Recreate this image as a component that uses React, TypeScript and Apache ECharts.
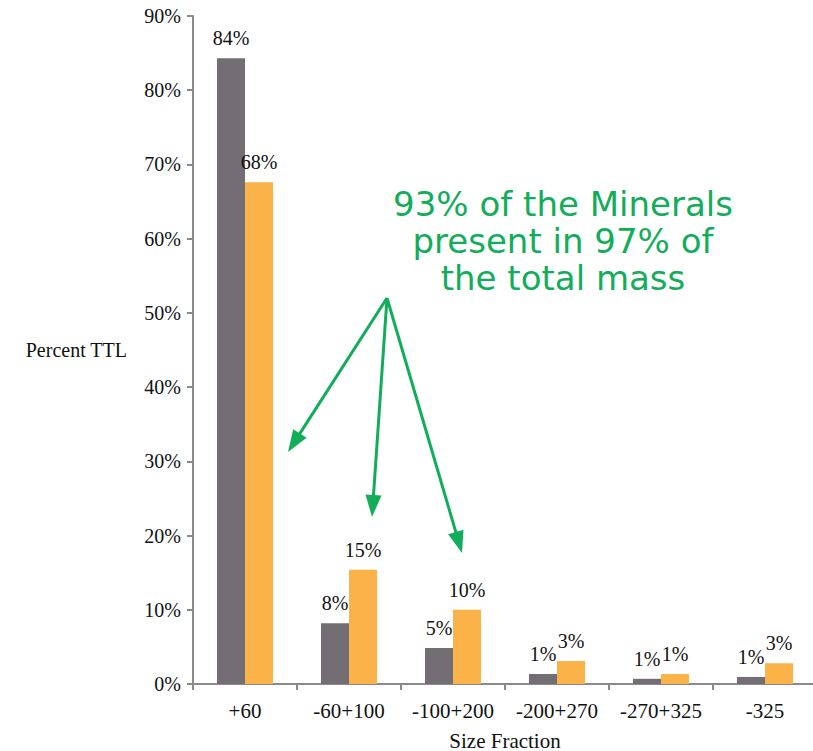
import React, { useEffect, useRef } from "react";
import * as echarts from "echarts";

const categories = ["+60", "-60+100", "-100+200", "-200+270", "-270+325", "-325"];
const seriesA = [84.3, 8.2, 4.85, 1.35, 0.7, 0.95];
const seriesB = [67.6, 15.4, 10.0, 3.1, 1.35, 2.8];
const yTicks = [0, 10, 20, 30, 40, 50, 60, 70, 80, 90];
const annotationLines = ["93% of the Minerals", "present in 97% of", "the total mass"];

const GREEN = "#12ad5b";
const SERIF = "'Liberation Serif', 'DejaVu Serif', serif";

function arrow(x1: number, y1: number, x2: number, y2: number) {
  const dx = x2 - x1;
  const dy = y2 - y1;
  const len = Math.sqrt(dx * dx + dy * dy);
  const ux = dx / len;
  const uy = dy / len;
  const headLen = 22;
  const headW = 8;
  const bx = x2 - ux * headLen;
  const by = y2 - uy * headLen;
  const px = -uy;
  const py = ux;
  return [
    {
      type: "line",
      shape: { x1, y1, x2: bx + ux * 2, y2: by + uy * 2 },
      style: { stroke: GREEN, lineWidth: 3 },
    },
    {
      type: "polygon",
      shape: {
        points: [
          [x2, y2],
          [bx + px * headW, by + py * headW],
          [bx - px * headW, by - py * headW],
        ],
      },
      style: { fill: GREEN },
    },
  ];
}

export default function App() {
  const ref = useRef<HTMLDivElement>(null);
  useEffect(() => {
    document.body.style.margin = "0";
    const chart = echarts.init(ref.current!, undefined, { renderer: "svg" });
    const labelFmt = (p: any) => Math.round(p.value) + "%";
    const barLabel = {
      show: true,
      position: "top",
      distance: 10,
      formatter: labelFmt,
      fontFamily: SERIF,
      fontSize: 20,
      color: "#111",
    };
    chart.setOption({
      animation: false,
      backgroundColor: "#ffffff",
      grid: {
        left: 193,
        top: 16,
        width: 624,
        height: 668,
        containLabel: false,
        outerBoundsMode: "none",
      },
      xAxis: {
        type: "category",
        data: categories,
        name: "Size Fraction",
        nameLocation: "middle",
        nameGap: 46,
        nameTextStyle: { fontFamily: SERIF, fontSize: 21, color: "#111" },
        axisLine: { lineStyle: { color: "#8a8a8a", width: 2 } },
        axisTick: { show: true, interval: 0, length: 6, lineStyle: { color: "#8a8a8a", width: 2 } },
        axisLabel: { interval: 0, hideOverlap: false, fontFamily: SERIF, fontSize: 21, color: "#111", margin: 16 },
      },
      yAxis: {
        type: "value",
        min: 0,
        max: 90,
        interval: 10,
        name: "Percent TTL",
        nameLocation: "middle",
        nameRotate: 0,
        nameGap: 66,
        nameTextStyle: { fontFamily: SERIF, fontSize: 20, color: "#111", align: "right", verticalAlign: "middle" },
        splitLine: { show: false },
        axisLine: { show: true, lineStyle: { color: "#8a8a8a", width: 2 } },
        axisTick: { show: true, length: 6, lineStyle: { color: "#8a8a8a", width: 2 } },
        axisLabel: {
          fontFamily: SERIF,
          fontSize: 20,
          color: "#111",
          margin: 12,
          formatter: (v: number) => (yTicks.includes(v) ? v + "%" : ""),
        },
      },
      series: [
        {
          type: "bar",
          data: seriesA,
          barWidth: 28,
          barGap: "0%",
          itemStyle: { color: "#736e73" },
          label: barLabel,
        },
        {
          type: "bar",
          data: seriesB,
          barWidth: 28,
          barGap: "0%",
          itemStyle: { color: "#fbb248" },
          label: barLabel,
        },
      ],
      graphic: [
        {
          type: "text",
          x: 563,
          y: 185,
          style: {
            text: annotationLines.join("\n"),
            fontFamily: "'DejaVu Sans', sans-serif",
            fontSize: 34,
            lineHeight: 37,
            fill: GREEN,
            align: "center",
            verticalAlign: "top",
          },
        },
        ...arrow(387, 298, 288, 452),
        ...arrow(387, 298, 372, 517),
        ...arrow(387, 298, 462, 553),
      ],
    });
    return () => chart.dispose();
  }, []);
  return <div ref={ref} style={{ position: "absolute", left: 0, top: 0, width: 813, height: 751 }} />;
}
